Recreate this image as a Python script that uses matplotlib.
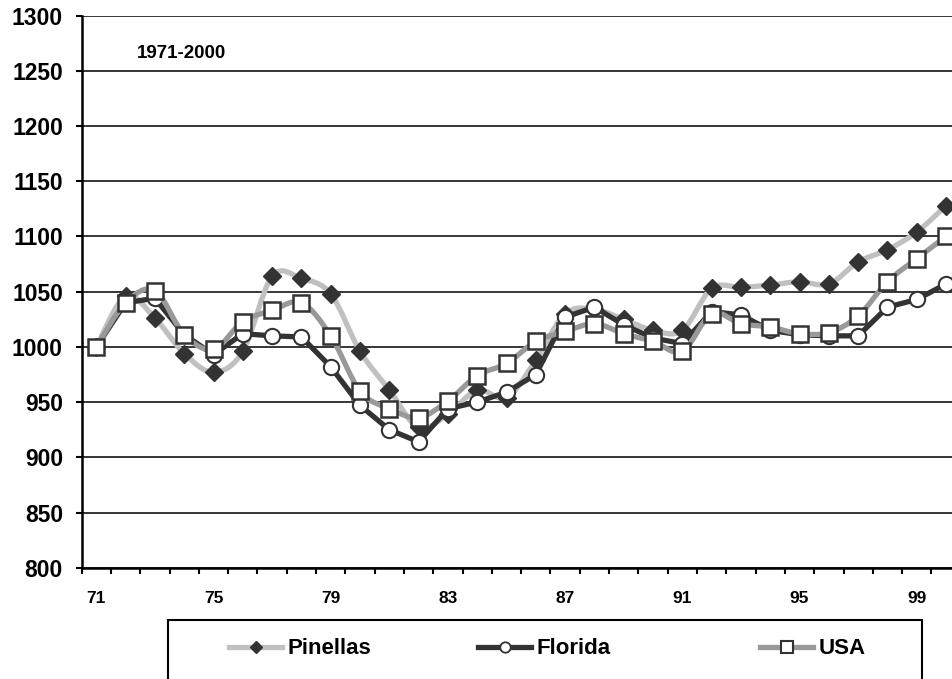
import numpy as np
import matplotlib
matplotlib.use("Agg")
import matplotlib.pyplot as plt
from matplotlib.path import Path
from matplotlib.patches import PathPatch, Rectangle
from matplotlib.lines import Line2D

# Data (index, 1971 = 1000)
years = list(range(1971, 2001))
pinellas = [1000, 1046, 1026, 994, 977, 996, 1064, 1062, 1048, 996,
            961, 927, 939, 961, 954, 988, 1030, 1034, 1025, 1015,
            1015, 1053, 1054, 1056, 1059, 1057, 1077, 1088, 1104, 1128]
florida = [1000, 1040, 1044, 1011, 993, 1012, 1010, 1009, 982, 947,
           925, 914, 944, 950, 959, 975, 1027, 1036, 1020, 1008,
           1003, 1032, 1029, 1015, 1011, 1010, 1010, 1036, 1043, 1057]
usa = [1000, 1040, 1051, 1011, 998, 1023, 1033, 1040, 1010, 960,
       944, 936, 951, 974, 985, 1005, 1014, 1021, 1012, 1005,
       996, 1030, 1021, 1018, 1012, 1013, 1028, 1059, 1080, 1100]
series_names = ["Pinellas", "Florida", "USA"]
note_text = "1971-2000"

plt.rcParams['font.family'] = ['Liberation Sans', 'DejaVu Sans']
plt.rcParams['font.weight'] = 'bold'


# Excel style smoothed line as a bezier path through the points
def smoothPath(x, y):
    pts = np.column_stack([x, y]).astype(float)
    n = len(pts)
    verts = [pts[0]]
    codes = [Path.MOVETO]
    for i in range(n - 1):
        p0 = pts[i - 1] if i > 0 else pts[i]
        p1 = pts[i]
        p2 = pts[i + 1]
        p3 = pts[i + 2] if i + 2 < n else pts[i + 1]
        verts += [p1 + (p2 - p0) / 6, p2 - (p3 - p1) / 6, p2]
        codes += [Path.CURVE4] * 3
    return Path(verts, codes)


fig = plt.figure(figsize=(9.53, 6.79), dpi=100)
ax = fig.add_axes([0.0857, 0.1639, 0.9224, 0.813])

x = np.arange(len(years))
dark = "#333333"

# Pinellas: light grey smoothed line, dark diamonds
ax.add_patch(PathPatch(smoothPath(x, pinellas), facecolor="none", edgecolor="#c0c0c0",
                       lw=3.8, capstyle="round", joinstyle="round", zorder=2))
ax.plot(x, pinellas, ls="none", marker="D", ms=9, mfc=dark, mec=dark, zorder=2.5)

# Florida: dark straight line, white circles
ax.plot(x, florida, color=dark, lw=3.8, marker="o", ms=11, mfc="white",
        mec=dark, mew=1.5, zorder=3)

# USA: mid grey smoothed line, white squares
ax.add_patch(PathPatch(smoothPath(x, usa), facecolor="none", edgecolor="#999999",
                       lw=3.8, capstyle="round", joinstyle="round", zorder=4))
ax.plot(x, usa, ls="none", marker="s", ms=11.5, mfc="white", mec=dark, mew=1.8, zorder=4.5)

# Axes styling
ax.set_xlim(-0.5, len(years) - 0.5)
ax.set_ylim(800, 1300)
ax.set_yticks(np.arange(800, 1301, 50))
ax.yaxis.grid(True, color="black", lw=1.1)
ax.set_axisbelow(True)
for s in ["top", "right"]:
    ax.spines[s].set_visible(False)
for s in ["left", "bottom"]:
    ax.spines[s].set_linewidth(1.8)
    ax.spines[s].set_zorder(6)

ax.tick_params(axis="y", length=4.5, width=1.5, pad=9, labelsize=16.5)
ax.set_xticks(np.arange(-0.5, len(years), 1))
ax.set_xticklabels([])
ax.tick_params(axis="x", which="major", length=4.5, width=1.5)
ax.set_xticks(x[::4], minor=True)
ax.set_xticklabels([str(y)[2:] for y in years[::4]], minor=True)
ax.tick_params(axis="x", which="minor", length=0, pad=17, labelsize=12.5)

fig.text(137 / 953, 1 - 54 / 679, note_text, fontsize=13.5, fontweight="bold",
         ha="left", va="center")

# Legend box running past the bottom edge
fig.patches.append(Rectangle((168 / 953, -0.05), (922 - 168) / 953, (679 - 620) / 679 + 0.05,
                             transform=fig.transFigure, facecolor="white",
                             edgecolor="black", lw=1.5, zorder=0))

handles = [
    Line2D([], [], color="#c0c0c0", lw=3.8, marker="D", ms=6.5, mfc=dark, mec=dark),
    Line2D([], [], color=dark, lw=3.8, marker="o", ms=7.5, mfc="white", mec=dark, mew=1.3),
    Line2D([], [], color="#999999", lw=3.8, marker="s", ms=8, mfc="white", mec=dark, mew=1.5),
]
starts = [229, 478, 760]
for h, name, sx in zip(handles, series_names, starts):
    fig.legend([h], [name], loc="center left", bbox_to_anchor=(sx / 953, 1 - 649 / 679),
               frameon=False, borderpad=0, borderaxespad=0, handlelength=2.4,
               handletextpad=0.25, numpoints=1, prop={"size": 16, "weight": "bold"})

fig.savefig("out.png", dpi=100)
